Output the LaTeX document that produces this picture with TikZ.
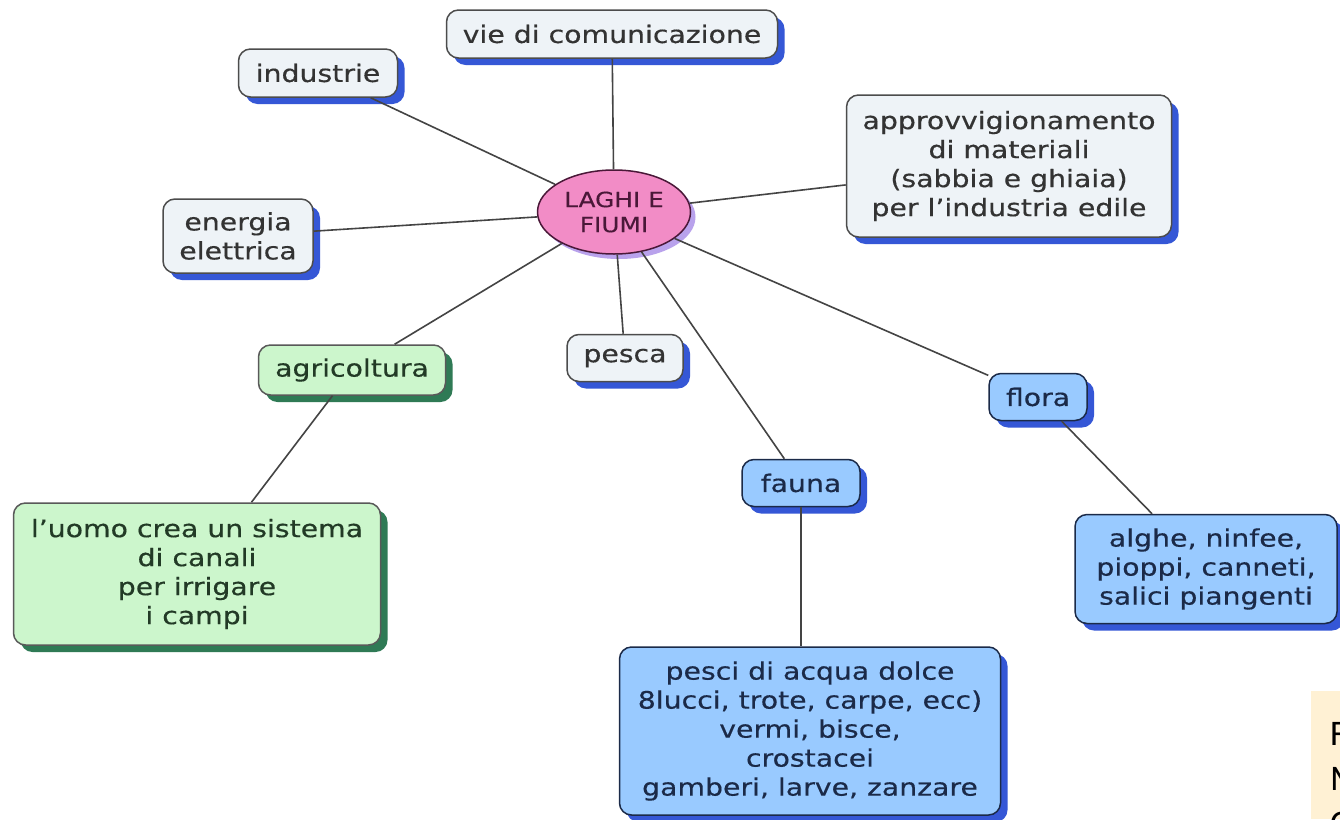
\documentclass[tikz,border=0pt]{standalone}
\usepackage{fontspec}
\setmainfont{DejaVu Sans}[FakeStretch=1.18,FakeBold=0.4]
\newfontfamily\notafont{Carlito}
\usetikzlibrary{shapes.geometric,shadows}
\definecolor{grigiochiaro}{HTML}{EEF3F7}
\definecolor{testogrigio}{HTML}{333333}
\definecolor{ombrablu}{HTML}{3557D6}
\definecolor{verdechiaro}{HTML}{CCF6CC}
\definecolor{testoverde}{HTML}{223A26}
\definecolor{ombraverde}{HTML}{2F7A55}
\definecolor{azzurro}{HTML}{99CAFF}
\definecolor{testoblu}{HTML}{1B2A48}
\definecolor{rosa}{HTML}{F28CC6}
\definecolor{bordoviola}{HTML}{4A1838}
\definecolor{ombraviola}{HTML}{B9A2EC}
\definecolor{linea}{HTML}{444444}
\definecolor{beige}{HTML}{FFF1D4}
\begin{document}
\begin{tikzpicture}[x=1pt,y=-1pt,
  box/.style={draw=black!70,line width=1.5pt,rounded corners=12pt,align=center,
    inner sep=0pt,font=\fontsize{24}{29}\selectfont},
  grigio/.style={box,fill=grigiochiaro,text=testogrigio,
    drop shadow={shadow xshift=7pt,shadow yshift=-7pt,fill=ombrablu,opacity=1}},
  verde/.style={box,draw=black!65,fill=verdechiaro,text=testoverde,
    drop shadow={shadow xshift=7pt,shadow yshift=-7pt,fill=ombraverde,opacity=1}},
  blu/.style={box,draw=testoblu,fill=azzurro,text=testoblu,
    drop shadow={shadow xshift=7pt,shadow yshift=-7pt,fill=ombrablu,opacity=1}},
  centro/.style={ellipse,draw=bordoviola,line width=1.5pt,fill=rosa,text=bordoviola,
    align=center,inner sep=0pt,font=\fontsize{21}{25}\selectfont,
    drop shadow={shadow xshift=5pt,shadow yshift=-5pt,fill=ombraviola,opacity=1}},
  link/.style={draw=linea,line width=1.6pt}]
\useasboundingbox[fill=white] (0,0) rectangle (1340,819);
% nodo centrale
\node[centro,minimum width=153pt,minimum height=84pt] (lf) at (614,212) {LAGHI E\\FIUMI};
% rami grigi
\node[grigio,minimum width=331pt,minimum height=48pt] (vie) at (612,34) {vie di comunicazione};
\node[grigio,minimum width=159pt,minimum height=48pt] (ind) at (318,73) {industrie};
\node[grigio,minimum width=150pt,minimum height=74pt] (ene) at (238,236) {energia\\elettrica};
\node[grigio,minimum width=325pt,minimum height=142pt] (app) at (1009,166)
  {approvvigionamento\\di materiali\\(sabbia e ghiaia)\\per l'industria edile};
\node[grigio,minimum width=116pt,minimum height=47pt] (pes) at (625,358) {pesca};
% rami verdi
\node[verde,minimum width=187pt,minimum height=50pt] (agr) at (352,370) {agricoltura};
\node[verde,minimum width=367pt,minimum height=142pt] (uomo) at (197,574)
  {l'uomo crea un sistema\\di canali\\per irrigare\\i campi};
% rami blu
\node[blu,minimum width=98pt,minimum height=47pt] (flo) at (1038,397) {flora};
\node[blu,minimum width=262pt,minimum height=109pt] (alg) at (1206,569)
  {alghe, ninfee,\\pioppi, canneti,\\salici piangenti};
\node[blu,minimum width=118pt,minimum height=47pt] (fau) at (801,483) {fauna};
\node[blu,minimum width=381pt,minimum height=168pt] (pesci) at (810,731)
  {pesci di acqua dolce\\8lucci, trote, carpe, ecc)\\vermi, bisce,\\crostacei\\gamberi, larve, zanzare};
% collegamenti
\draw[link] (lf) -- (vie);
\draw[link] (lf) -- (ind);
\draw[link] (lf) -- (ene);
\draw[link] (lf) -- (app);
\draw[link] (lf) -- (pes);
\draw[link] (lf) -- (agr);
\draw[link] (lf) -- (flo);
\draw[link] (lf) -- (fau);
\draw[link] (agr) -- (uomo);
\draw[link] (flo) -- (alg);
\draw[link] (fau) -- (fau |- pesci.north);
% riquadro tagliato
\begin{scope}
\clip (1311,691) rectangle (1340,819);
\fill[beige] (1311,691) rectangle (1340,819);
\node[anchor=base west,align=left,inner sep=0pt,font=\notafont\fontsize{36}{45}\selectfont] (nota) at (1330,835) {F\\M\\C};
\end{scope}
\end{tikzpicture}
\end{document}
